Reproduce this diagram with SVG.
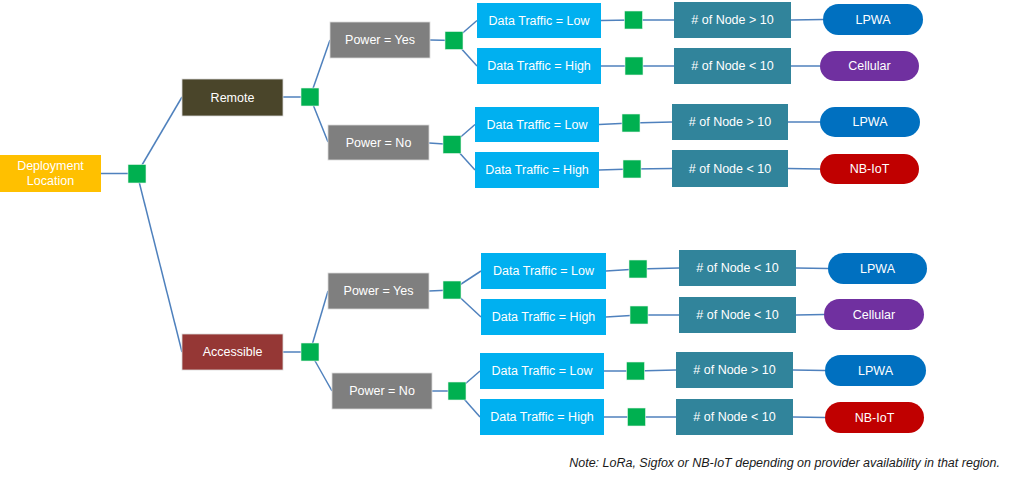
<svg xmlns="http://www.w3.org/2000/svg" width="1024" height="479" viewBox="0 0 1024 479">
<style>
text{font-family:"Liberation Sans",Arial,sans-serif;font-size:12.5px;fill:#fff;text-anchor:middle;dominant-baseline:central}
.c line,.c polyline{stroke:#4f81bd;stroke-width:1.5;fill:none}
.j{fill:#00b050;stroke:#e8f5ec;stroke-width:0.6}
.b{stroke:#d9d9d9;stroke-width:0.8}
.pw{fill:#7f7f7f}
.dt{fill:#00b0f0}
.nd{fill:#31849b}
.lp{fill:#0070c0}
.ce{fill:#7030a0}
.nb{fill:#c00000}
.note{font-size:12.5px;font-style:italic;fill:#1a1a1a;text-anchor:end}
</style>
<rect width="1024" height="479" fill="#fff"/>
<g class="c" id="connectors">
<line x1="101" y1="173.5" x2="137" y2="173.5"/>
<line x1="137" y1="173.5" x2="182" y2="97"/>
<line x1="137" y1="173.5" x2="182" y2="352"/>
<line x1="283" y1="97" x2="310" y2="97"/>
<line x1="310" y1="97" x2="330" y2="40"/>
<line x1="310" y1="97" x2="328" y2="142"/>
<line x1="283" y1="352" x2="310" y2="352"/>
<line x1="310" y1="352" x2="328" y2="291"/>
<line x1="310" y1="352" x2="332" y2="391"/>
<line x1="430" y1="40" x2="454" y2="40.5"/>
<line x1="454" y1="40.5" x2="477" y2="20.5"/>
<line x1="454" y1="40.5" x2="477" y2="66"/>
<line x1="429" y1="143" x2="452" y2="144.5"/>
<line x1="452" y1="144.5" x2="475" y2="124.5"/>
<line x1="452" y1="144.5" x2="475" y2="170"/>
<line x1="429" y1="291" x2="452" y2="290"/>
<line x1="452" y1="290" x2="481" y2="271"/>
<line x1="452" y1="290" x2="481" y2="317"/>
<line x1="432" y1="391" x2="457" y2="391"/>
<line x1="457" y1="391" x2="480" y2="371"/>
<line x1="457" y1="391" x2="480" y2="417"/>
<polyline points="601,20.5 633.5,20 674,20"/>
<line x1="791" y1="20" x2="823" y2="19.5"/>
<polyline points="601,66 634,66 674,66"/>
<line x1="791" y1="66" x2="820" y2="66"/>
<polyline points="599,124.5 631,123 672,122"/>
<line x1="788" y1="122" x2="820" y2="122"/>
<polyline points="599,170 632,169 672,168.5"/>
<line x1="788" y1="168.5" x2="820" y2="169"/>
<polyline points="606,271 638,269 679,268"/>
<line x1="796" y1="268" x2="828" y2="268.5"/>
<polyline points="606,317 639,315 679,315"/>
<line x1="796" y1="315" x2="824" y2="314.5"/>
<polyline points="604,371 635.5,371 676,370"/>
<line x1="793" y1="370" x2="825" y2="370.5"/>
<polyline points="604,417 636.5,417 676,417"/>
<line x1="793" y1="417" x2="825" y2="417.5"/>
</g>
<g id="deployment"><rect x="0" y="155" width="101" height="37" fill="#ffc000"/><text x="50.5" y="166">Deployment</text><text x="50.5" y="181">Location</text></g>
<g id="remote"><rect class="b" x="182" y="79" width="101" height="37" fill="#4a452a"/><text x="232.5" y="97.5">Remote</text></g>
<g id="accessible"><rect class="b" x="182" y="334" width="101" height="36" fill="#953735"/><text x="232.5" y="352">Accessible</text></g>
<g id="j0"><rect class="j" x="128" y="164.5" width="18" height="18.5"/></g>
<g id="j1"><rect class="j" x="301" y="88" width="18" height="18"/></g>
<g id="j2"><rect class="j" x="301" y="343" width="18" height="18"/></g>
<g id="pw1"><rect class="pw b" x="330" y="22" width="100" height="36"/><text x="380" y="40">Power = Yes</text></g>
<g id="pw2"><rect class="pw b" x="328" y="125" width="101" height="35"/><text x="378.5" y="142.5">Power = No</text></g>
<g id="pw3"><rect class="pw b" x="328" y="273" width="101" height="36"/><text x="378.5" y="291">Power = Yes</text></g>
<g id="pw4"><rect class="pw b" x="332" y="373" width="100" height="36"/><text x="382" y="391">Power = No</text></g>
<g id="j3"><rect class="j" x="445" y="31.5" width="18" height="18"/></g>
<g id="j4"><rect class="j" x="443" y="135.5" width="18" height="18"/></g>
<g id="j5"><rect class="j" x="443" y="281" width="18" height="18"/></g>
<g id="j6"><rect class="j" x="448" y="382" width="18" height="18"/></g>
<g id="dt1"><rect class="dt" x="477" y="3" width="124" height="35"/><text x="539" y="20.5">Data Traffic = Low</text></g>
<g id="dt2"><rect class="dt" x="477" y="48" width="124" height="36"/><text x="539" y="66">Data Traffic = High</text></g>
<g id="dt3"><rect class="dt" x="475" y="107" width="124" height="35"/><text x="537" y="124.5">Data Traffic = Low</text></g>
<g id="dt4"><rect class="dt" x="475" y="152" width="124" height="36"/><text x="537" y="170">Data Traffic = High</text></g>
<g id="dt5"><rect class="dt" x="481" y="253" width="125" height="36"/><text x="543.5" y="271">Data Traffic = Low</text></g>
<g id="dt6"><rect class="dt" x="481" y="299" width="125" height="36"/><text x="543.5" y="317">Data Traffic = High</text></g>
<g id="dt7"><rect class="dt" x="480" y="353" width="124" height="36"/><text x="542" y="371">Data Traffic = Low</text></g>
<g id="dt8"><rect class="dt" x="480" y="399" width="124" height="36"/><text x="542" y="417">Data Traffic = High</text></g>
<g id="j7"><rect class="j" x="624.5" y="11" width="18" height="18"/></g>
<g id="j8"><rect class="j" x="625" y="57" width="18" height="18"/></g>
<g id="j9"><rect class="j" x="622" y="114" width="18" height="18"/></g>
<g id="j10"><rect class="j" x="623" y="160" width="18" height="18"/></g>
<g id="j11"><rect class="j" x="629" y="260" width="18" height="18"/></g>
<g id="j12"><rect class="j" x="630" y="306" width="18" height="18"/></g>
<g id="j13"><rect class="j" x="626.5" y="362" width="18" height="18"/></g>
<g id="j14"><rect class="j" x="627.5" y="408" width="18" height="18"/></g>
<g id="n1"><rect class="nd" x="674" y="2" width="117" height="36"/><text x="732.5" y="20"># of Node &gt; 10</text></g>
<g id="n2"><rect class="nd" x="674" y="48" width="117" height="36"/><text x="732.5" y="66"># of Node &lt; 10</text></g>
<g id="n3"><rect class="nd" x="672" y="104" width="116" height="36"/><text x="730" y="122"># of Node &gt; 10</text></g>
<g id="n4"><rect class="nd" x="672" y="150" width="116" height="37"/><text x="730" y="168.5"># of Node &lt; 10</text></g>
<g id="n5"><rect class="nd" x="679" y="250" width="117" height="36"/><text x="737.5" y="268"># of Node &lt; 10</text></g>
<g id="n6"><rect class="nd" x="679" y="297" width="117" height="36"/><text x="737.5" y="315"># of Node &lt; 10</text></g>
<g id="n7"><rect class="nd" x="676" y="352" width="117" height="36"/><text x="734.5" y="370"># of Node &gt; 10</text></g>
<g id="n8"><rect class="nd" x="676" y="399" width="117" height="36"/><text x="734.5" y="417"># of Node &lt; 10</text></g>
<g id="r1"><rect class="lp" x="823" y="4" width="100" height="31" rx="15.5"/><text x="873" y="19.5">LPWA</text></g>
<g id="r2"><rect class="ce" x="820" y="51" width="99" height="30" rx="15"/><text x="869.5" y="66">Cellular</text></g>
<g id="r3"><rect class="lp" x="820" y="107" width="100" height="30" rx="15"/><text x="870" y="122">LPWA</text></g>
<g id="r4"><rect class="nb" x="820" y="154" width="99" height="30" rx="15"/><text x="869.5" y="169">NB-IoT</text></g>
<g id="r5"><rect class="lp" x="828" y="253" width="99" height="31" rx="15.5"/><text x="877.5" y="268.5">LPWA</text></g>
<g id="r6"><rect class="ce" x="824" y="299" width="100" height="31" rx="15.5"/><text x="874" y="314.5">Cellular</text></g>
<g id="r7"><rect class="lp" x="825" y="355" width="101" height="31" rx="15.5"/><text x="875.5" y="370.5">LPWA</text></g>
<g id="r8"><rect class="nb" x="825" y="402" width="99" height="31" rx="15.5"/><text x="874.5" y="417.5">NB-IoT</text></g>
<text class="note" x="1000" y="463">Note: LoRa, Sigfox or NB-IoT depending on provider availability in that region.</text>
</svg>
